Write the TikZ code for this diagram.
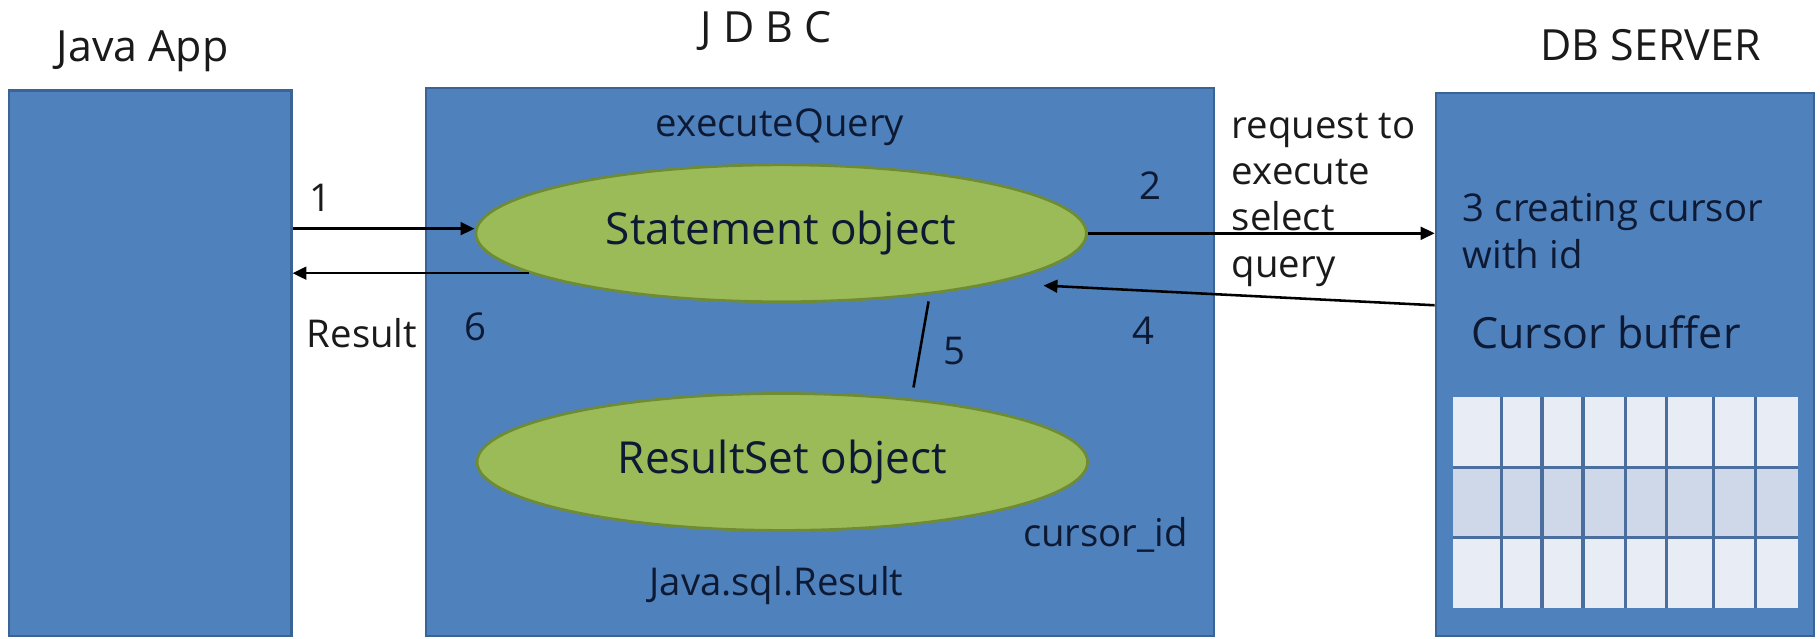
\documentclass[tikz,border=0pt]{standalone}
\usepackage{fontspec}
\setmainfont{Open Sans}
\usetikzlibrary{arrows.meta,shapes.geometric,calc}
\definecolor{boxblue}{HTML}{4F81BD}
\definecolor{boxedge}{HTML}{3A6495}
\definecolor{ellgreen}{HTML}{9BBB59}
\definecolor{elledge}{HTML}{6F8C35}
\definecolor{navy}{HTML}{0E1A33}
\definecolor{ink}{HTML}{1A1A1A}
\definecolor{cellA}{HTML}{E8EDF5}
\definecolor{cellB}{HTML}{CFD8E8}
\definecolor{gridline}{HTML}{4A6E9E}
\begin{document}
\begin{tikzpicture}[x=0.5pt,y=-0.5pt,
  panel/.style={rectangle,draw=boxedge,line width=1pt,fill=boxblue,inner sep=0},
  obj/.style={ellipse,draw=elledge,line width=1.2pt,fill=ellgreen,inner sep=0,
    minimum width=263pt,minimum height=59pt,font=\fontsize{19}{22}\selectfont,text=navy},
  title/.style={font=\fontsize{18.5}{22}\selectfont,text=ink,inner sep=0,anchor=base},
  lbl/.style={font=\fontsize{16.5}{20}\selectfont,text=navy,inner sep=0,anchor=base west},
  olbl/.style={lbl,text=ink},
  arr/.style={draw=black,line width=1.1pt,-{Triangle[length=6pt,width=5.5pt]}},
  conn/.style={draw=black,line width=1.1pt}]
\useasboundingbox (0,0) rectangle (1568,550);
\fill[white] (0,0) rectangle (1568,550);

% panels
\node[panel,minimum width=121.5pt,minimum height=235pt] (java) at (129.5,313) {};
\node[panel,minimum width=339.5pt,minimum height=236pt] (jdbc) at (706.5,312) {};
\node[panel,minimum width=163pt,minimum height=234pt] (db) at (1400,314) {};

% titles
\node[title] (tjava) at (123,53) {Java App};
\node[title] (tjdbc) at (660,37) {J D B C};
\node[title] (tdb) at (1422,52) {DB SERVER};

% JDBC contents
\node[lbl,anchor=base] (eq) at (672,118) {executeQuery};
\node[obj] (stmt) at (673,201) {Statement object};
\node[obj] (rs) at (674,398) {ResultSet object};
\node[lbl,anchor=base] (jsr) at (669,513) {Java.sql.Result};
\node[lbl] (cid) at (881,471) {cursor\_id};

% step numbers and labels
\node[olbl,anchor=base] (n1) at (276,182) {1};
\node[lbl,anchor=base] (n2) at (991,172) {2};
\node[lbl,anchor=base] (n4) at (985,297) {4};
\node[lbl,anchor=base] (n5) at (822,314) {5};
\node[lbl,anchor=base] (n6) at (410,293) {6};
\node[olbl] (res) at (264,299) {Result};
\node[olbl] (req) at (1061,119) {\parbox[t]{200pt}{request to\\execute\\select\\query}};

% DB server contents
\node[lbl] (cre) at (1260,191) {\parbox[t]{200pt}{3 creating cursor\\with id}};
\node[lbl,font=\fontsize{18.5}{22}\selectfont] (cb) at (1267,300) {Cursor buffer};
\fill[gridline] (1252,342) rectangle (1549,524);
\foreach \ya/\yb/\col in {342/401.5/cellA, 403.7/461.8/cellB, 464/524/cellA}
  \foreach \xa/\xb in {1252/1292.3, 1295.1/1327, 1329.8/1362.3, 1365.1/1399.2,
                       1402/1434.5, 1437.3/1474.7, 1477.5/1511.2, 1514/1549}
    \fill[\col] (\xa,\ya) rectangle (\xb,\yb);

% connectors
\coordinate (t4) at ($(stmt.center)+(226,45)$);
\coordinate (s4) at ($(db.west)+(0,-51)$);
\coordinate (a1) at ($(stmt.west)+(0,-4)$);
\draw[arr] (a1 -| java.east) -- (a1);
\draw[arr] (stmt.189) -- (stmt.189 -| java.east);
\draw[arr] (stmt.east) -- (stmt.east -| db.west);
\draw[arr] (s4) -- (t4);
\draw[conn] ($(stmt.south)+(127,-1.5)$) -- ($(rs.north)+(113,-4)$);
\end{tikzpicture}
\end{document}
